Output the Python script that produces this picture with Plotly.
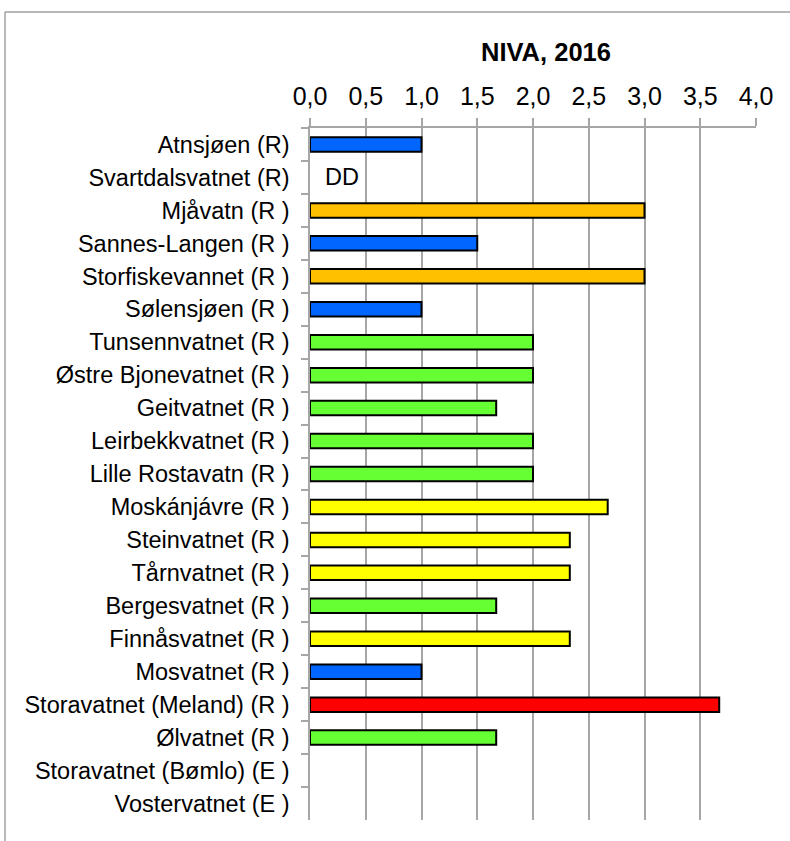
import plotly.graph_objects as go

categories = [
    "Atnsjøen (R)", "Svartdalsvatnet (R)", "Mjåvatn (R )", "Sannes-Langen (R )",
    "Storfiskevannet (R )", "Sølensjøen (R )", "Tunsennvatnet (R )",
    "Østre Bjonevatnet (R )", "Geitvatnet (R )", "Leirbekkvatnet (R )",
    "Lille Rostavatn (R )", "Moskánjávre (R )", "Steinvatnet (R )",
    "Tårnvatnet (R )", "Bergesvatnet (R )", "Finnåsvatnet (R )",
    "Mosvatnet (R )", "Storavatnet (Meland) (R )", "Ølvatnet (R )",
    "Storavatnet (Bømlo) (E )", "Vostervatnet (E )",
]
values = [1.0, None, 3.0, 1.5, 3.0, 1.0, 2.0, 2.0, 1.67, 2.0, 2.0, 2.67,
          2.33, 2.33, 1.67, 2.33, 1.0, 3.67, 1.67, None, None]
bar_colors = ["#0066FF", "#FFFFFF", "#FFC000", "#0066FF", "#FFC000", "#0066FF",
              "#66FF33", "#66FF33", "#66FF33", "#66FF33", "#66FF33", "#FFFF00",
              "#FFFF00", "#FFFF00", "#66FF33", "#FFFF00", "#0066FF", "#FF0000",
              "#66FF33", "#FFFFFF", "#FFFFFF"]
tick_vals = [0, 0.5, 1, 1.5, 2, 2.5, 3, 3.5, 4]
tick_text = ["0,0", "0,5", "1,0", "1,5", "2,0", "2,5", "3,0", "3,5", "4,0"]
dd_label = "DD"
dd_category = "Svartdalsvatnet (R)"
dd_x = 0.29
title_text = "NIVA, 2016"

FONT = "Liberation Sans, Arial, sans-serif"
GRID = "#A6A6A6"

W, H = 790, 841
plot_left, plot_right, plot_top, plot_bottom = 310, 756, 128, 820
L, T = plot_left, plot_top
R, B = W - plot_right, H - plot_bottom
pw = W - L - R
ph = H - T - B

def px2paper_x(px):
    return (px - L) / pw

def px2paper_y(py):
    return 1 - (py - T) / ph

fig = go.Figure(go.Bar(
    x=values, y=categories, orientation="h",
    marker=dict(color=bar_colors, line=dict(color="black", width=2)),
    width=0.44, hoverinfo="x+y",
))

fig.update_layout(
    width=W, height=H,
    margin=dict(l=L, r=R, t=T, b=B, pad=0),
    paper_bgcolor="white", plot_bgcolor="white",
    showlegend=False,
    font=dict(family=FONT, color="black", size=23),
    xaxis=dict(
        side="top", range=[0, 4], tickvals=tick_vals, ticktext=tick_text,
        showgrid=True, gridcolor=GRID, gridwidth=1.5,
        showline=True, linecolor=GRID, linewidth=1.5,
        ticks="outside", ticklen=8, tickcolor=GRID, tickwidth=1.5,
        tickfont=dict(size=25), ticklabelstandoff=3,
        zeroline=False, fixedrange=True,
    ),
    yaxis=dict(
        type="category", categoryorder="array", categoryarray=categories,
        range=[len(categories) - 0.5, -0.5],
        showgrid=False, showline=True, linecolor=GRID, linewidth=1.5,
        ticks="outside", ticklen=7, tickcolor=GRID, tickwidth=1.5,
        tickson="boundaries", tickfont=dict(size=23.5),
        ticklabelstandoff=14, zeroline=False, fixedrange=True,
    ),
    annotations=[
        dict(x=dd_x, y=dd_category, xref="x", yref="y", text=dd_label,
             showarrow=False, font=dict(size=23.5, color="black"),
             xanchor="center", yanchor="middle"),
        dict(x=px2paper_x(545.5), y=px2paper_y(52.5), xref="paper", yref="paper",
             text="<b>" + title_text + "</b>", showarrow=False,
             font=dict(size=25.5, color="black"), xanchor="center", yanchor="middle"),
    ],
    shapes=[
        dict(type="line", xref="paper", yref="paper",
             x0=px2paper_x(5), x1=px2paper_x(800), y0=px2paper_y(12), y1=px2paper_y(12),
             line=dict(color="#A0A0A0", width=1.5)),
        dict(type="line", xref="paper", yref="paper",
             x0=px2paper_x(5), x1=px2paper_x(5), y0=px2paper_y(12), y1=px2paper_y(850),
             line=dict(color="#A0A0A0", width=1.5)),
    ],
)

fig.write_html(
    "out.html",
    config={"displayModeBar": False},
    post_script="document.body.style.margin='0';document.body.style.overflow='hidden';",
)
